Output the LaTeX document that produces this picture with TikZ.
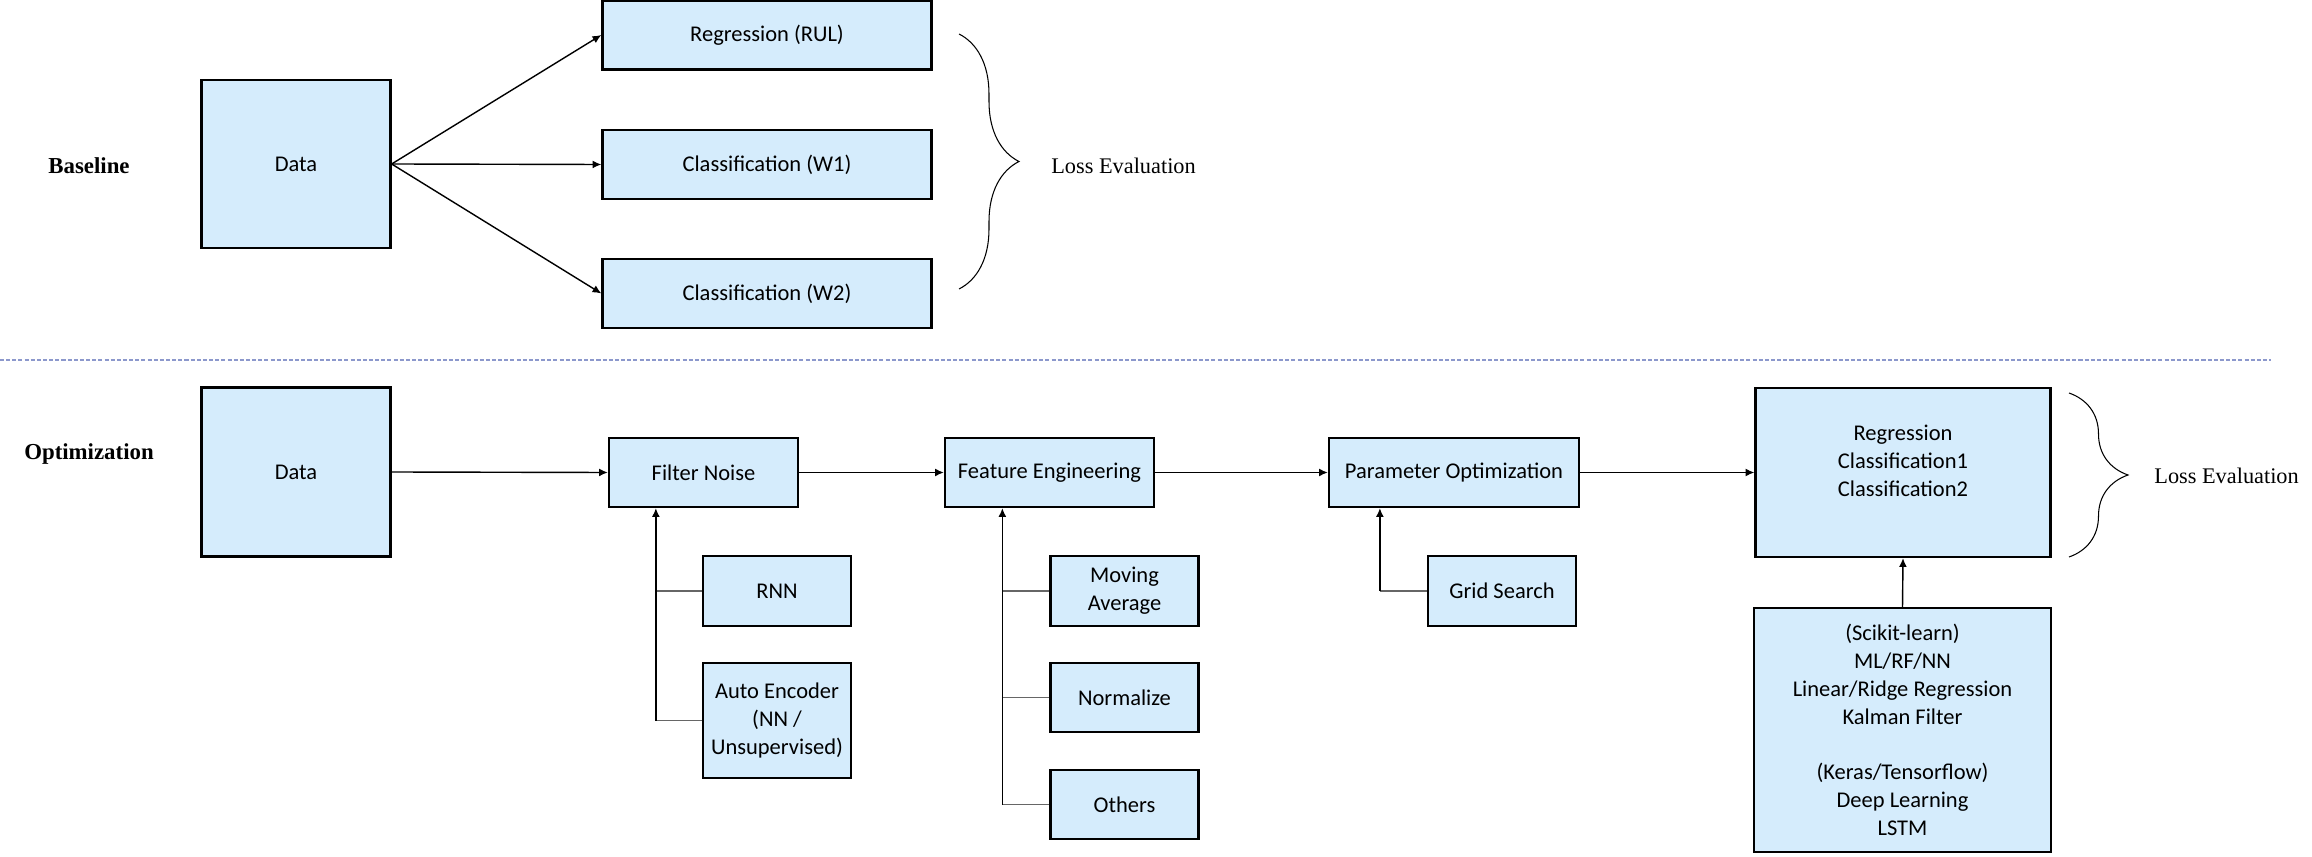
\documentclass[tikz,border=0pt]{standalone}
\usepackage{fontspec}
\setmainfont{Liberation Serif}
\newfontfamily\calibri{Carlito}
\usetikzlibrary{arrows.meta,decorations.pathreplacing,calc}
\definecolor{boxblue}{RGB}{213,236,252}
\definecolor{sepline}{RGB}{140,152,204}
\tikzset{
  box/.style={draw=black, line width=1.3pt, fill=boxblue, font=\calibri\fontsize{12.8}{15.8}\selectfont, align=center, inner sep=0pt},
  boxtext/.style={font=\calibri\fontsize{12.8}{15.8}\selectfont, align=center, inner sep=0pt},
  flow/.style={line width=0.8pt, -{Latex[length=5pt,width=4.5pt]}},
  stub/.style={line width=0.8pt, draw=black!60},
  lossbrace/.style={decorate, decoration={brace, amplitude=#1}, line width=0.6pt},
  rowlabel/.style={font=\bfseries\fontsize{13}{16}\selectfont},
  losslabel/.style={anchor=west, inner sep=0pt, font=\fontsize{12.7}{16}\selectfont},
}
\begin{document}
\begin{tikzpicture}[x=0.02cm,y=-0.02cm]
\pgfmathsetlengthmacro\pxl{0.02cm}
\useasboundingbox (0,0) rectangle (2312,857);

% baseline row
\node[rowlabel] (baseline) at (89,166) {Baseline};
\node[box, minimum width=189*\pxl, minimum height=168*\pxl] (data1) at (296,164) {Data};
\foreach \name/\txt/\y in {rul/Regression (RUL)/35, wone/Classification (W1)/164.5, wtwo/Classification (W2)/293.5}
{
  \node[box, minimum width=329*\pxl, minimum height=69*\pxl] (\name) at (767,\y) {\txt};
  \draw[flow] (data1.east) -- (\name.west);
}
\draw[lossbrace=1.2cm] (959,34) -- (959,289);
\node[losslabel] (loss1) at (1051,166) {Loss Evaluation};

% separator
\draw[sepline, line width=1pt, dash pattern=on 2.3pt off 1.2pt] (0,360) -- (2271,360);

% optimization row
\node[rowlabel] (optim) at (89,454) {Optimization};
\node[box, minimum width=189*\pxl, minimum height=169*\pxl] (data2) at (296,472) {Data};
\node[box, minimum width=189*\pxl, minimum height=69*\pxl] (fn) at (703.5,472.5) {Filter Noise};
\node[box, minimum width=209*\pxl, minimum height=69*\pxl] (fe) at (1049.5,472.5) {Feature Engineering};
\node[box, minimum width=250*\pxl, minimum height=69*\pxl] (po) at (1454,472.5) {Parameter Optimization};
\node[box, minimum width=295*\pxl, minimum height=169*\pxl] (reg) at (1903,472.5) {};
\node[boxtext] (regtxt) at (1903,461) {Regression\\Classification1\\Classification2};
\draw[flow] (data2.east) -- (fn.west);
\draw[flow] (fn.east) -- (fe.west);
\draw[flow] (fe.east) -- (po.west);
\draw[flow] (po.east) -- (reg.west);
\draw[lossbrace=1.18cm] (2069,393) -- (2069,557);
\node[losslabel] (loss2) at (2154,476) {Loss Evaluation};

% filter noise options
\node[box, minimum width=148*\pxl, minimum height=70*\pxl] (rnn) at (777,591) {RNN};
\node[box, minimum width=148*\pxl, minimum height=115*\pxl] (ae) at (777,720.5) {Auto Encoder\\(NN /\\Unsupervised)};
\coordinate (fnspine) at ($(ae.west)+(-46,0)$);
\draw[stub] (rnn.west) -- (rnn.west -| fnspine);
\draw[stub] (ae.west) -- (fnspine);
\draw[flow] (fnspine) -- (fnspine |- fn.south);

% feature engineering options
\node[box, minimum width=148*\pxl, minimum height=70*\pxl] (ma) at (1124.5,591) {Moving\\Average};
\node[box, minimum width=148*\pxl, minimum height=69*\pxl] (norm) at (1124.5,697.5) {Normalize};
\node[box, minimum width=148*\pxl, minimum height=69*\pxl] (others) at (1124.5,804.5) {Others};
\coordinate (fespine) at ($(others.west)+(-47,0)$);
\foreach \opt in {ma,norm,others} \draw[stub] (\opt.west) -- (\opt.west -| fespine);
\draw[flow] (fespine) -- (fespine |- fe.south);

% parameter optimization options
\node[box, minimum width=148*\pxl, minimum height=70*\pxl] (grid) at (1502,591) {Grid Search};
\coordinate (pospine) at ($(grid.west)+(-47,0)$);
\draw[stub] (grid.west) -- (pospine);
\draw[flow] (pospine) -- (pospine |- po.south);

% model libraries
\node[box, minimum width=297*\pxl, minimum height=244*\pxl] (sk) at (1902.5,730) {(Scikit-learn)\\ML/RF/NN\\Linear/Ridge Regression\\Kalman Filter\\[15.8pt](Keras/Tensorflow)\\Deep Learning\\LSTM};
\draw[flow] (sk.north) -- (reg.south);
\end{tikzpicture}
\end{document}
